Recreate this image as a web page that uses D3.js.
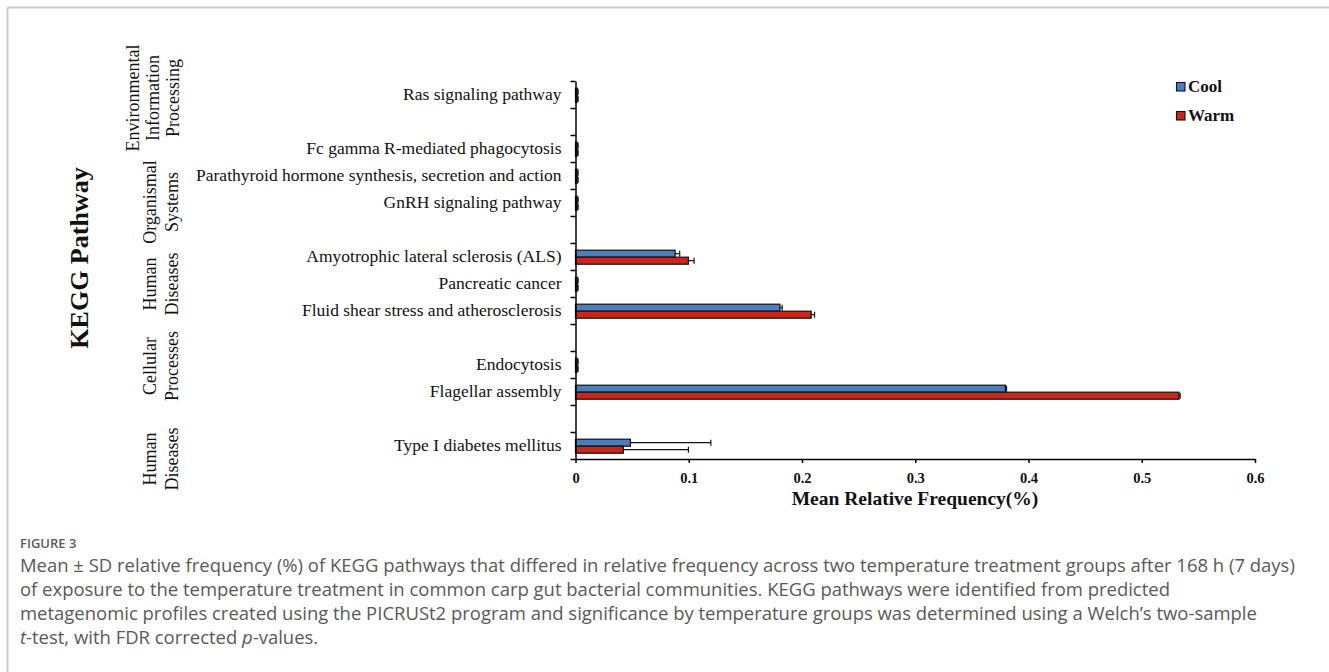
<!DOCTYPE html>
<html>
<head>
<meta charset="utf-8">
<script src="https://cdn.jsdelivr.net/npm/d3@7"></script>
<style>
  html, body { margin: 0; padding: 0; background: #fff; }
  svg { display: block; }
</style>
</head>
<body>
<svg id="chart" width="1329" height="672"></svg>
<script>
// ---------- DATA ----------
const categories = [
  "Ras signaling pathway", "",
  "Fc gamma R-mediated phagocytosis",
  "Parathyroid hormone synthesis, secretion and action",
  "GnRH signaling pathway", "",
  "Amyotrophic lateral sclerosis (ALS)",
  "Pancreatic cancer",
  "Fluid shear stress and atherosclerosis", "",
  "Endocytosis",
  "Flagellar assembly", "",
  "Type I diabetes mellitus"
];
const seriesNames = ["Cool", "Warm"];
const coolMean = [0.0015, null, 0.0015, 0.0015, 0.0015, null, 0.088, 0.0015, 0.1805, null, 0.0015, 0.3796, null, 0.0485];
const coolSD   = [0.0008, null, 0.0008, 0.0008, 0.0008, null, 0.004, 0.0008, 0.002, null, 0.0008, 0.001, null, 0.071];
const warmMean = [0.0015, null, 0.0015, 0.0015, 0.0015, null, 0.0997, 0.0015, 0.2081, null, 0.0015, 0.5329, null, 0.0422];
const warmSD   = [0.0008, null, 0.0008, 0.0008, 0.0008, null, 0.005, 0.0008, 0.003, null, 0.0008, 0.001, null, 0.0575];
const xTicks = [0, 0.1, 0.2, 0.3, 0.4, 0.5, 0.6];
const groupLabels = [
  ["Environmental", "Information", "Processing"],
  ["Organismal", "Systems"],
  ["Human", "Diseases"],
  ["Cellular", "Processes"],
  ["Human", "Diseases"]
];
const colors = { Cool: "#4a7ebd", Warm: "#cc2519" };
const captionTitle = "FIGURE 3";
const captionLines = [
  "Mean ± SD relative frequency (%) of KEGG pathways that differed in relative frequency across two temperature treatment groups after 168 h (7 days)",
  "of exposure to the temperature treatment in common carp gut bacterial communities. KEGG pathways were identified from predicted",
  "metagenomic profiles created using the PICRUSt2 program and significance by temperature groups was determined using a Welch\u2019s two-sample"
];

// ---------- LAYOUT ----------
const svg = d3.select("#chart");
const serif = "'Liberation Serif', 'Times New Roman', serif";
const sans = "'Open Sans', 'Noto Sans', sans-serif";

// frame
svg.append("line").attr("x1", 7.5).attr("x2", 1329).attr("y1", 7.5).attr("y2", 7.5)
  .attr("stroke", "#c9c9c9").attr("stroke-width", 2);
svg.append("line").attr("x1", 7.5).attr("x2", 7.5).attr("y1", 7.5).attr("y2", 672)
  .attr("stroke", "#c9c9c9").attr("stroke-width", 2);

const plot = { left: 575.5, right: 1255, top: 81, bottom: 459 };

const x = d3.scaleLinear().domain([0, 0.6]).range([plot.left, plot.right]);
const idx = d3.range(categories.length);
const y = d3.scaleBand().domain(idx).range([plot.top, plot.bottom]).paddingInner(0).paddingOuter(0);
const yBound = d3.scaleLinear().domain([0, categories.length]).range([plot.top, plot.bottom]);
const ySub = d3.scaleBand().domain(seriesNames).range([7.2, 21.2]).padding(0);

// bars
const barData = [];
idx.forEach(i => {
  if (coolMean[i] != null) barData.push({ i, s: "Cool", v: coolMean[i], sd: coolSD[i] });
  if (warmMean[i] != null) barData.push({ i, s: "Warm", v: warmMean[i], sd: warmSD[i] });
});

const gBars = svg.append("g");
gBars.selectAll("rect").data(barData).join("rect")
  .attr("x", x(0))
  .attr("y", d => y(d.i) + ySub(d.s))
  .attr("width", d => x(d.v) - x(0))
  .attr("height", ySub.bandwidth())
  .attr("fill", d => colors[d.s])
  .attr("stroke", "#111").attr("stroke-width", 1.2);

// error bars (positive side)
const gErr = svg.append("g").attr("stroke", "#111").attr("stroke-width", 1.2);
gErr.selectAll("line.h").data(barData).join("line").attr("class", "h")
  .attr("x1", d => x(d.v)).attr("x2", d => x(d.v + d.sd))
  .attr("y1", d => y(d.i) + ySub(d.s) + ySub.bandwidth() / 2)
  .attr("y2", d => y(d.i) + ySub(d.s) + ySub.bandwidth() / 2);
gErr.selectAll("line.c").data(barData).join("line").attr("class", "c")
  .attr("x1", d => x(d.v + d.sd)).attr("x2", d => x(d.v + d.sd))
  .attr("y1", d => y(d.i) + ySub(d.s) + 0.5)
  .attr("y2", d => y(d.i) + ySub(d.s) + ySub.bandwidth() - 0.5);

// y axis: boundary ticks
const yTickAxis = d3.axisLeft(yBound).tickValues(d3.range(categories.length + 1))
  .tickSize(5).tickSizeOuter(0).tickFormat("");
const gyt = svg.append("g").attr("transform", `translate(${plot.left},0)`).call(yTickAxis);
gyt.selectAll("path, line").attr("stroke", "#000").attr("stroke-width", 1.5);

// y axis: labels
const yLabAxis = d3.axisLeft(y).tickSize(0).tickPadding(14).tickFormat(i => categories[i]);
const gyl = svg.append("g").attr("transform", `translate(${plot.left},0)`).call(yLabAxis);
gyl.select(".domain").remove();
gyl.selectAll("text").attr("font-family", serif).attr("font-size", 17.5).attr("fill", "#111");

// x axis
const xAxis = d3.axisBottom(x).tickValues(xTicks).tickSize(4).tickSizeOuter(0).tickPadding(10)
  .tickFormat(d => d === 0 ? "0" : d3.format(".1f")(d));
const gx = svg.append("g").attr("transform", `translate(0,${plot.bottom})`).call(xAxis);
gx.selectAll("path, line").attr("stroke", "#000").attr("stroke-width", 1.5);
gx.selectAll("text").attr("font-family", serif).attr("font-size", 14.5).attr("font-weight", "bold").attr("fill", "#111");

// x title
svg.append("text").attr("x", 915).attr("y", 505).attr("text-anchor", "middle")
  .attr("font-family", serif).attr("font-size", 19.5).attr("font-weight", "bold").attr("fill", "#111")
  .text("Mean Relative Frequency(%)");

// y title
svg.append("text").attr("transform", "translate(88,258) rotate(-90)").attr("text-anchor", "middle")
  .attr("font-family", serif).attr("font-size", 26).attr("font-weight", "bold").attr("fill", "#111")
  .text("KEGG Pathway");

// group labels (rotated)
const groupCenters = [98, 202, 284, 366, 459];
const groupCols = [[139, 159, 179], [156, 178], [156, 178], [156, 178], [156, 178]];
groupLabels.forEach((lines, gi) => {
  lines.forEach((t, li) => {
    svg.append("text")
      .attr("transform", `translate(${groupCols[gi][li]},${groupCenters[gi]}) rotate(-90)`)
      .attr("text-anchor", "middle")
      .attr("font-family", serif).attr("font-size", 18).attr("fill", "#111")
      .text(t);
  });
});

// legend
const lg = svg.append("g");
seriesNames.forEach((s, k) => {
  const yy = 82 + k * 29;
  lg.append("rect").attr("x", 1176.5).attr("y", yy + 0.5).attr("width", 8.5).attr("height", 8.5)
    .attr("fill", colors[s]).attr("stroke", "#111").attr("stroke-width", 1.1);
  lg.append("text").attr("x", 1188).attr("y", yy + 10).attr("font-family", serif)
    .attr("font-size", 17).attr("font-weight", "bold").attr("fill", "#111").text(s);
});

// caption
const capX = 20;
svg.append("text").attr("x", capX).attr("y", 548).attr("font-family", sans).attr("font-size", 13)
  .attr("font-weight", 600).attr("fill", "#5a5a5a").text(captionTitle);
const capG = svg.append("g").attr("font-family", sans).attr("font-size", 16).attr("fill", "#595959");
captionLines.forEach((t, k) => {
  capG.append("text").attr("x", capX).attr("y", 572 + k * 24).text(t);
});
const last = capG.append("text").attr("x", capX).attr("y", 572 + 3 * 24);
last.append("tspan").attr("font-style", "italic").text("t");
last.append("tspan").text("-test, with FDR corrected ");
last.append("tspan").attr("font-style", "italic").text("p");
last.append("tspan").text("-values.");
// fit first line to measured width
const l1 = capG.select("text").node().getComputedTextLength();
const fs = 16 * 1276 / l1;
capG.attr("font-size", Math.min(19, Math.max(14, fs)));
</script>
</body>
</html>
